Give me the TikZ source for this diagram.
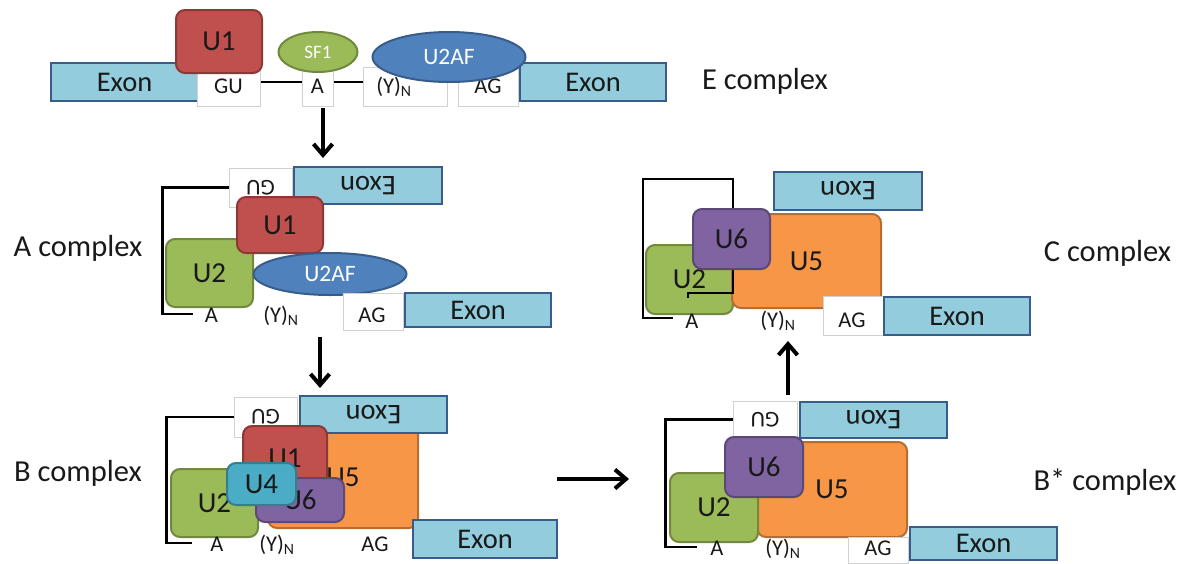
\documentclass[tikz,border=0pt]{standalone}
\usepackage{fontspec}
\usepackage{graphicx}
\setmainfont{Carlito}
\usetikzlibrary{arrows.meta,shapes.geometric}
\definecolor{exfill}{RGB}{147,205,221}
\definecolor{exline}{RGB}{56,93,138}
\definecolor{uonefill}{RGB}{192,80,77}
\definecolor{uoneline}{RGB}{140,56,54}
\definecolor{greenfill}{RGB}{155,187,89}
\definecolor{greenline}{RGB}{113,137,63}
\definecolor{bluefill}{RGB}{79,129,189}
\definecolor{blueline}{RGB}{56,93,138}
\definecolor{orfill}{RGB}{247,150,70}
\definecolor{orline}{RGB}{182,109,49}
\definecolor{pufill}{RGB}{128,100,162}
\definecolor{puline}{RGB}{92,71,118}
\definecolor{tefill}{RGB}{75,172,198}
\definecolor{teline}{RGB}{53,126,146}
\definecolor{txt}{RGB}{25,25,25}
\newcommand\mycx{\fontsize{30.5}{36}\selectfont}
\newcommand\myu{\fontsize{29}{34}\selectfont}
\newcommand\myex{\fontsize{28.5}{34}\selectfont}
\newcommand\mysm{\fontsize{22.5}{27}\selectfont}
\newcommand\mysf{\fontsize{19}{23}\selectfont}
\newcommand\myaf{\fontsize{23.5}{28}\selectfont}
\tikzset{
 exonbox/.style={draw=exline, fill=exfill, line width=2.5pt, inner sep=0pt, font=\myex, text=txt},
 whitebox/.style={draw=black!18, fill=white, line width=1pt, inner sep=0pt},
 snrna/.style={rounded corners=9pt, line width=2pt, inner sep=0pt, font=\myu, text=txt},
 uone/.style={snrna, draw=uoneline, fill=uonefill},
 utwo/.style={snrna, draw=greenline, fill=greenfill},
 ufive/.style={snrna, draw=orline, fill=orfill},
 usix/.style={snrna, draw=puline, fill=pufill},
 ufour/.style={snrna, draw=teline, fill=tefill},
 oval/.style={ellipse, line width=2pt, inner sep=0pt},
 site/.style={font=\mysm, text=txt, anchor=base, inner sep=0pt},
 cplx/.style={font=\mycx, text=txt, anchor=base, inner sep=0pt},
 bracket/.style={line width=2.5pt, black},
 bigarrow/.style={line width=4pt, black, -{Straight Barb[length=11pt,width=19pt]}},
}
\begin{document}
\begin{tikzpicture}[x=1pt,y=-1pt]
\useasboundingbox (0,0) rectangle (1194,563);
\fill[white] (0,0) rectangle (1194,563);

% ---------------- E complex ----------------
\node[exonbox, minimum width=147pt, minimum height=38pt] (exE1) at (124.5,82) {Exon};
\node[exonbox, minimum width=146pt, minimum height=38pt] (exE2) at (593,82) {Exon};
\draw[line width=2pt] (exE1.east) -- (exE2.west);
\node[whitebox, minimum width=63pt, minimum height=39pt] (guE) at (228.5,86.5) {};
\node[site] (tguE) at (228.5,93) {GU};
\node[whitebox, minimum width=31pt, minimum height=39pt] (aE) at (317.5,86.5) {};
\node[site] (taE) at (317.5,93) {A};
\node[whitebox, minimum width=84pt, minimum height=39pt] (ynE) at (405,86.5) {};
\node[site] (tynE) at (394,93) {(Y)\textsubscript{N}};
\node[whitebox, minimum width=60pt, minimum height=39pt] (agE) at (488,86.5) {};
\node[site] (tagE) at (488,93) {AG};
\node[uone, minimum width=86pt, minimum height=63pt] (uoneE) at (219,41.5) {U1};
\node[oval, draw=greenline, fill=greenfill, minimum width=79pt, minimum height=40pt, font=\mysf, text=white] (sfE) at (318,52) {SF1};
\node[oval, draw=blueline, fill=bluefill, minimum width=153pt, minimum height=50pt, font=\myaf, text=white] (afE) at (449,57) {U2AF};
\node[cplx] (lE) at (765,89) {E complex};

\coordinate (a1s) at (323,108);
\coordinate (a1e) at (323,158);
\draw[bigarrow] (a1s) -- (a1e);

% ---------------- A complex ----------------
\node[whitebox, minimum width=63pt, minimum height=39pt, font=\mysm, text=txt] (guA) at (260.5,187.5) {\rotatebox{180}{GU}};
\coordinate (brA) at (193,314);
\draw[bracket] (guA.west) -- ++(-66,0) |- (brA);
\node[exonbox, minimum width=148pt, minimum height=37pt] (exA1) at (368,185.5) {\rotatebox{180}{Exon}};
\node[utwo, minimum width=87pt, minimum height=68pt] (utwoA) at (209.5,273) {U2};
\node[uone, minimum width=86pt, minimum height=56pt] (uoneA) at (280,225) {U1};
\node[oval, draw=blueline, fill=bluefill, minimum width=153pt, minimum height=42pt, font=\myaf, text=white] (afA) at (330,274) {U2AF};
\node[site] (taA) at (211.5,322) {A};
\node[site] (tynA) at (281,322) {(Y)\textsubscript{N}};
\node[whitebox, minimum width=60pt, minimum height=37pt] (agA) at (373,311.5) {};
\node[site] (tagA) at (372,322) {AG};
\node[exonbox, minimum width=146pt, minimum height=34pt] (exA2) at (478,310) {Exon};
\node[cplx] (lA) at (78,256) {A complex};

\coordinate (a2s) at (320,337);
\coordinate (a2e) at (320,388);
\draw[bigarrow] (a2s) -- (a2e);

% ---------------- B complex ----------------
\node[whitebox, minimum width=63pt, minimum height=40pt, font=\mysm, text=txt] (guB) at (265.5,417) {\rotatebox{180}{GU}};
\coordinate (brB) at (192,543);
\draw[bracket] (guB.west) -- ++(-67,0) |- (brB);
\node[ufive, minimum width=150pt, minimum height=102pt] (ufiveB) at (343,477) {U5};
\node[exonbox, minimum width=147pt, minimum height=37pt] (exB1) at (373.5,414.5) {\rotatebox{180}{Exon}};
\node[uone, minimum width=84pt, minimum height=64pt] (uoneB) at (285,458) {U1};
\node[utwo, minimum width=87pt, minimum height=68pt] (utwoB) at (214.5,503) {U2};
\node[usix, minimum width=88pt, minimum height=44pt] (usixB) at (300,500) {U6};
\node[ufour, minimum width=69pt, minimum height=42pt] (ufourB) at (261.5,484) {U4};
\node[site] (taB) at (217,551) {A};
\node[site] (tynB) at (277,551) {(Y)\textsubscript{N}};
\node[site] (tagB) at (375,551) {AG};
\node[exonbox, minimum width=144pt, minimum height=38pt] (exB2) at (485,539) {Exon};
\node[cplx] (lB) at (78,481) {B complex};

\coordinate (a3s) at (557,479);
\coordinate (a3e) at (629,479);
\draw[bigarrow] (a3s) -- (a3e);

% ---------------- B* complex ----------------
\node[whitebox, minimum width=64pt, minimum height=36pt, font=\mysm, text=txt] (guBs) at (765,419.5) {\rotatebox{180}{GU}};
\coordinate (brBs) at (697,547);
\draw[bracket] (guBs.west) -- ++(-67,0) |- (brBs);
\node[exonbox, minimum width=147pt, minimum height=36pt] (exBs1) at (873.5,420) {\rotatebox{180}{Exon}};
\node[ufive, minimum width=150pt, minimum height=95pt] (ufiveBs) at (832,489.5) {U5};
\node[utwo, minimum width=88pt, minimum height=69pt] (utwoBs) at (714,507.5) {U2};
\node[usix, minimum width=78pt, minimum height=60pt] (usixBs) at (764,467) {U6};
\node[whitebox, minimum width=60pt, minimum height=26pt] (agBs) at (878,550) {};
\node[site] (taBs) at (717,555) {A};
\node[site] (tynBs) at (783,555) {(Y)\textsubscript{N}};
\node[site] (tagBs) at (878,555) {AG};
\node[exonbox, minimum width=147pt, minimum height=33pt] (exBs2) at (983.5,543.5) {Exon};
\node[cplx] (lBs) at (1105,490) {B* complex};

\coordinate (a4s) at (788,395);
\coordinate (a4e) at (788,341);
\draw[bigarrow] (a4s) -- (a4e);

% ---------------- C complex ----------------
\node[exonbox, minimum width=148pt, minimum height=38pt] (exC1) at (848,191) {\rotatebox{180}{Exon}};
\node[utwo, minimum width=87pt, minimum height=69pt] (utwoC) at (689.5,279.5) {U2};
\node[ufive, minimum width=149pt, minimum height=94pt] (ufiveC) at (806.5,261) {U5};
\coordinate (cS) at (688,298);
\coordinate (cE) at (673,318);
\draw[bracket] (cS) -- ++(0,-5) -- ++(45,0) -- ++(0,-114) -- ++(-90,0) |- (cE);
\node[usix, minimum width=77pt, minimum height=60pt] (usixC) at (731.5,239) {U6};
\node[whitebox, minimum width=60pt, minimum height=39pt] (agC) at (853,315.5) {};
\node[exonbox, minimum width=146pt, minimum height=38pt] (exC2) at (957,316) {Exon};
\node[site] (taC) at (692,328) {A};
\node[site] (tynC) at (778,327) {(Y)\textsubscript{N}};
\node[site] (tagC) at (852,327) {AG};
\node[cplx] (lC) at (1107.5,261) {C complex};
\end{tikzpicture}
\end{document}
